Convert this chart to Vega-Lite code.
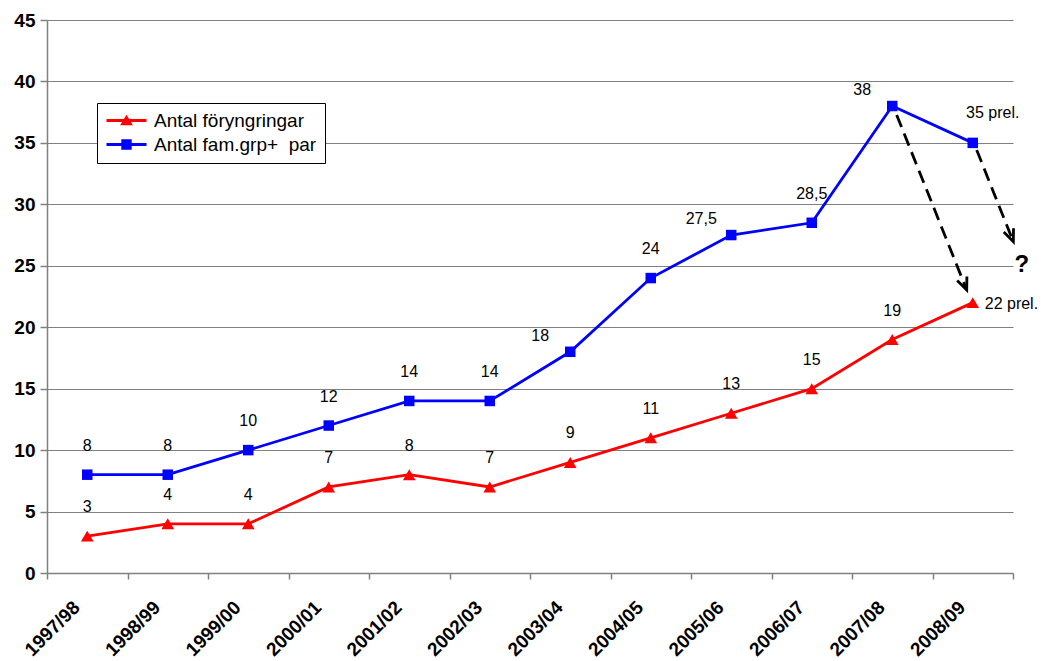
{
  "$schema": "https://vega.github.io/schema/vega-lite/v6.json",
  "width": 966,
  "height": 553,
  "autosize": {"type": "none"},
  "padding": {"left": 47, "top": 20, "right": 28, "bottom": 88},
  "background": "white",
  "config": {
    "view": {"stroke": null},
    "font": "Liberation Sans",
    "text": {"font": "Liberation Sans"}
  },
  "datasets": {
    "series": [
      {"season": "1997/98", "serie": "Antal föryngringar", "value": 3, "label": "3"},
      {"season": "1998/99", "serie": "Antal föryngringar", "value": 4, "label": "4"},
      {"season": "1999/00", "serie": "Antal föryngringar", "value": 4, "label": "4"},
      {"season": "2000/01", "serie": "Antal föryngringar", "value": 7, "label": "7"},
      {"season": "2001/02", "serie": "Antal föryngringar", "value": 8, "label": "8"},
      {"season": "2002/03", "serie": "Antal föryngringar", "value": 7, "label": "7"},
      {"season": "2003/04", "serie": "Antal föryngringar", "value": 9, "label": "9"},
      {"season": "2004/05", "serie": "Antal föryngringar", "value": 11, "label": "11"},
      {"season": "2005/06", "serie": "Antal föryngringar", "value": 13, "label": "13"},
      {"season": "2006/07", "serie": "Antal föryngringar", "value": 15, "label": "15"},
      {"season": "2007/08", "serie": "Antal föryngringar", "value": 19, "label": "19"},
      {"season": "2008/09", "serie": "Antal föryngringar", "value": 22, "label": "22 prel."},
      {"season": "1997/98", "serie": "Antal fam.grp+\u00a0 par", "value": 8, "label": "8"},
      {"season": "1998/99", "serie": "Antal fam.grp+\u00a0 par", "value": 8, "label": "8"},
      {"season": "1999/00", "serie": "Antal fam.grp+\u00a0 par", "value": 10, "label": "10"},
      {"season": "2000/01", "serie": "Antal fam.grp+\u00a0 par", "value": 12, "label": "12"},
      {"season": "2001/02", "serie": "Antal fam.grp+\u00a0 par", "value": 14, "label": "14"},
      {"season": "2002/03", "serie": "Antal fam.grp+\u00a0 par", "value": 14, "label": "14"},
      {"season": "2003/04", "serie": "Antal fam.grp+\u00a0 par", "value": 18, "label": "18"},
      {"season": "2004/05", "serie": "Antal fam.grp+\u00a0 par", "value": 24, "label": "24"},
      {"season": "2005/06", "serie": "Antal fam.grp+\u00a0 par", "value": 27.5, "label": "27,5"},
      {"season": "2006/07", "serie": "Antal fam.grp+\u00a0 par", "value": 28.5, "label": "28,5"},
      {"season": "2007/08", "serie": "Antal fam.grp+\u00a0 par", "value": 38, "label": "38"},
      {"season": "2008/09", "serie": "Antal fam.grp+\u00a0 par", "value": 35, "label": "35 prel."}
    ],
    "arrows": [
      {"arrow": "a", "ax": 10.555, "ay": 37.27, "tip": false},
      {"arrow": "a", "ax": 11.425, "ay": 23.03, "tip": true},
      {"arrow": "b", "ax": 11.549, "ay": 34.42, "tip": false},
      {"arrow": "b", "ax": 12.004, "ay": 26.96, "tip": true}
    ],
    "question": [
      {"qx": 12.11, "qy": 25.06, "text": "?"}
    ]
  },
  "layer": [
    {
      "data": {"name": "series"},
      "encoding": {
        "x": {
          "field": "season",
          "type": "ordinal",
          "scale": {
            "type": "band",
            "domain": ["1997/98", "1998/99", "1999/00", "2000/01", "2001/02", "2002/03", "2003/04", "2004/05", "2005/06", "2006/07", "2007/08", "2008/09"],
            "paddingInner": 0,
            "paddingOuter": 0
          },
          "axis": {
            "title": null,
            "tickBand": "extent",
            "labelAngle": -45,
            "labelAlign": "right",
            "labelBaseline": "middle",
            "labelFont": "Liberation Sans",
            "labelFontWeight": "bold",
            "labelFontSize": 19,
            "labelColor": "black",
            "labelPadding": 25,
            "labelOffset": -11,
            "tickSize": 6,
            "tickColor": "#808080",
            "domainColor": "#808080",
            "domainWidth": 1.5,
            "tickWidth": 1.5,
            "grid": false
          }
        },
        "y": {
          "field": "value",
          "type": "quantitative",
          "scale": {"domain": [0, 45], "nice": false},
          "axis": {
            "title": null,
            "values": [0, 5, 10, 15, 20, 25, 30, 35, 40, 45],
            "labelFont": "Liberation Sans",
            "labelFontWeight": "bold",
            "labelFontSize": 19,
            "labelColor": "black",
            "labelPadding": 5,
            "tickSize": 7,
            "tickColor": "#808080",
            "tickWidth": 1.5,
            "domainColor": "#808080",
            "domainWidth": 1.5,
            "grid": true,
            "gridColor": "#808080",
            "gridWidth": 1.2
          }
        },
        "color": {
          "field": "serie",
          "type": "nominal",
          "scale": {"domain": ["Antal föryngringar", "Antal fam.grp+\u00a0 par"], "range": ["#ff0000", "#0000ff"]},
          "legend": {
            "title": null,
            "orient": "none",
            "legendX": 50,
            "legendY": 83,
            "fillColor": "white",
            "strokeColor": "black",
            "padding": 8,
            "labelFont": "Liberation Sans",
            "labelFontSize": 19,
            "labelColor": "black",
            "labelLimit": 400,
            "labelOffset": 18,
            "symbolOffset": 12,
            "rowPadding": 4,
            "symbolSize": 256,
            "symbolOpacity": 1,
            "symbolStrokeWidth": 0
          }
        }
      },
      "layer": [
        {
          "mark": {"type": "line", "strokeWidth": 2.8}
        },
        {
          "mark": {"type": "point", "filled": true, "opacity": 0},
          "encoding": {
            "shape": {
              "field": "serie",
              "type": "nominal",
              "scale": {
                "domain": ["Antal föryngringar", "Antal fam.grp+\u00a0 par"],
                "range": [
                  "M -2.5 -0.18 L 2.5 -0.18 L 2.5 0.18 L -2.5 0.18 Z M 0 -0.72 L 0.8 0.58 L -0.8 0.58 Z",
                  "M -2.5 -0.18 L 2.5 -0.18 L 2.5 0.18 L -2.5 0.18 Z M -0.65 -0.65 L 0.65 -0.65 L 0.65 0.65 L -0.65 0.65 Z"
                ]
              },
              "legend": {
                "title": null,
                "orient": "none",
                "legendX": 50,
                "legendY": 83,
                "fillColor": "white",
                "strokeColor": "black",
                "padding": 8,
                "labelFont": "Liberation Sans",
                "labelFontSize": 19,
                "labelColor": "black",
                "labelLimit": 400,
                "labelOffset": 18,
                "symbolOffset": 12,
                "rowPadding": 4,
                "symbolSize": 256,
                "symbolOpacity": 1,
                "symbolStrokeWidth": 0
              }
            }
          }
        },
        {
          "mark": {"type": "point", "filled": true, "opacity": 1},
          "encoding": {
            "shape": {
              "condition": {"test": "datum.serie == 'Antal föryngringar'", "value": "triangle-up"},
              "value": "square"
            },
            "size": {
              "condition": {"test": "datum.serie == 'Antal föryngringar'", "value": 160},
              "value": 110
            }
          }
        },
        {
          "transform": [{"filter": "!(datum.serie != 'Antal föryngringar' && (datum.season == '2003/04' || datum.season == '2005/06' || datum.season == '2007/08' || datum.season == '2008/09')) && !(datum.serie == 'Antal föryngringar' && datum.season == '2008/09')"}],
          "mark": {"type": "text", "fontSize": 16, "color": "black", "dy": -29, "baseline": "middle"},
          "encoding": {"text": {"field": "label"}, "color": {"value": "black"}}
        },
        {
          "transform": [{"filter": "datum.serie != 'Antal föryngringar' && (datum.season == '2003/04' || datum.season == '2005/06' || datum.season == '2007/08')"}],
          "mark": {"type": "text", "fontSize": 16, "color": "black", "dx": -30, "dy": -16, "baseline": "middle"},
          "encoding": {"text": {"field": "label"}, "color": {"value": "black"}}
        },
        {
          "transform": [{"filter": "datum.serie != 'Antal föryngringar' && datum.season == '2008/09'"}],
          "mark": {"type": "text", "fontSize": 16, "color": "black", "dx": 20, "dy": -30, "baseline": "middle"},
          "encoding": {"text": {"field": "label"}, "color": {"value": "black"}}
        },
        {
          "transform": [{"filter": "datum.serie == 'Antal föryngringar' && datum.season == '2008/09'"}],
          "mark": {"type": "text", "fontSize": 16, "color": "black", "dx": 12, "dy": 1, "align": "left", "baseline": "middle"},
          "encoding": {"text": {"field": "label"}, "color": {"value": "black"}}
        }
      ]
    },
    {
      "layer": [
        {
          "data": {"name": "arrows"},
          "mark": {"type": "line", "color": "black", "strokeWidth": 2.8, "strokeDash": [13, 7], "clip": false},
          "encoding": {
            "x": {"field": "ax", "type": "quantitative", "scale": {"domain": [0, 12], "nice": false, "zero": false}, "axis": null},
            "y": {"field": "ay", "type": "quantitative", "scale": {"domain": [0, 45], "nice": false}, "axis": null},
            "detail": {"field": "arrow"},
            "order": {"field": "ax"}
          }
        },
        {
          "data": {"name": "arrows"},
          "transform": [{"filter": "datum.tip"}],
          "mark": {"type": "point", "shape": "M -0.42 -1 L 0 0 L 0.42 -1", "filled": false, "stroke": "black", "strokeWidth": 2.8, "size": 620, "angle": 338, "opacity": 1, "clip": false},
          "encoding": {
            "x": {"field": "ax", "type": "quantitative", "scale": {"domain": [0, 12], "nice": false, "zero": false}, "axis": null},
            "y": {"field": "ay", "type": "quantitative", "scale": {"domain": [0, 45], "nice": false}, "axis": null}
          }
        },
        {
          "data": {"name": "question"},
          "mark": {"type": "text", "fontSize": 24, "fontWeight": "bold", "color": "black", "baseline": "middle", "align": "center", "clip": false},
          "encoding": {
            "x": {"field": "qx", "type": "quantitative", "scale": {"domain": [0, 12], "nice": false, "zero": false}, "axis": null},
            "y": {"field": "qy", "type": "quantitative", "scale": {"domain": [0, 45], "nice": false}, "axis": null},
            "text": {"field": "text"}
          }
        }
      ]
    }
  ],
  "resolve": {"scale": {"x": "independent", "y": "independent"}}
}
